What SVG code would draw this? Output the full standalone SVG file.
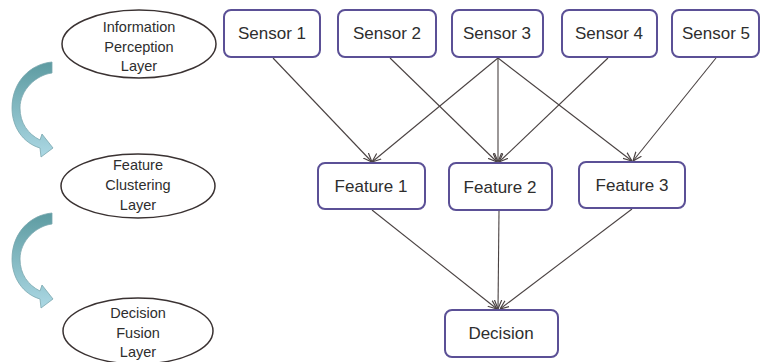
<svg xmlns="http://www.w3.org/2000/svg" width="761" height="362" viewBox="0 0 761 362">
<style>
.node rect{fill:#fff;stroke:#5b5096;stroke-width:2}
.node text{font-family:"Liberation Sans",Arial,sans-serif;font-size:17px;fill:#2e2e2e;text-anchor:middle}
.layer ellipse{fill:#fff;stroke:#3a3232;stroke-width:1.5}
.layer text{font-family:"Liberation Sans",Arial,sans-serif;font-size:14.5px;fill:#2e2e2e;text-anchor:middle}
.conn line{stroke:#4a4242;stroke-width:1.1;marker-end:url(#ah)}
.curve{fill:url(#tg);stroke:#7aa7ae;stroke-width:0.8}
</style>
<defs>
<marker id="ah" viewBox="0 0 10 10" refX="10" refY="5" markerWidth="9" markerHeight="9" markerUnits="userSpaceOnUse" orient="auto">
<path d="M0,1 L10,5 L0,9" fill="none" stroke="#4a4242" stroke-width="1.3"/>
</marker>
<linearGradient id="tg" x1="0" y1="0" x2="0" y2="1">
<stop offset="0" stop-color="#5d9ba1"/>
<stop offset="1" stop-color="#acd8e4"/>
</linearGradient>
</defs>
<rect width="761" height="362" fill="#fff"/>

<g id="layer-info" class="layer">
<ellipse cx="139" cy="44" rx="77" ry="34"/>
<text x="139" y="32">Information</text>
<text x="139" y="52">Perception</text>
<text x="139" y="71">Layer</text>
</g>
<g id="layer-feature" class="layer">
<ellipse cx="138" cy="186" rx="77" ry="32"/>
<text x="138" y="170">Feature</text>
<text x="138" y="190">Clustering</text>
<text x="138" y="210">Layer</text>
</g>
<g id="layer-decision" class="layer">
<ellipse cx="138" cy="331" rx="75" ry="33"/>
<text x="138" y="318">Decision</text>
<text x="138" y="338">Fusion</text>
<text x="138" y="357">Layer</text>
</g>

<g id="flow-arrows">
<path class="curve" d="M52,62 L52,73 C36,75 20,90 20,108 C20,123 28,134 40,140 L42,134 L53,148 L41,157 L40,148 C23,143 12,127 12,108 C12,82 30,64 52,62 Z"/>
<path class="curve" d="M52,213 L52,224 C36,226 20,241 20,259 C20,274 28,285 40,291 L42,285 L53,299 L41,308 L40,299 C23,294 12,278 12,259 C12,233 30,215 52,213 Z"/>
</g>

<g id="connectors" class="conn">
<line x1="273" y1="58" x2="372" y2="162"/>
<line x1="390" y1="58" x2="497" y2="162"/>
<line x1="498" y1="58" x2="372" y2="162"/>
<line x1="498" y1="58" x2="498" y2="162"/>
<line x1="498" y1="58" x2="632" y2="161"/>
<line x1="608" y1="58" x2="499" y2="162"/>
<line x1="716" y1="58" x2="633" y2="161"/>
<line x1="372" y1="210" x2="497" y2="309"/>
<line x1="499" y1="211" x2="498" y2="309"/>
<line x1="632" y1="209" x2="500" y2="309"/>
</g>

<g id="sensor1" class="node"><rect x="224" y="10" width="96" height="47" rx="7"/><text x="272" y="39">Sensor 1</text></g>
<g id="sensor2" class="node"><rect x="338" y="10" width="98" height="47" rx="7"/><text x="387" y="39">Sensor 2</text></g>
<g id="sensor3" class="node"><rect x="452" y="10" width="91" height="47" rx="7"/><text x="497" y="39">Sensor 3</text></g>
<g id="sensor4" class="node"><rect x="562" y="10" width="95" height="47" rx="7"/><text x="609" y="39">Sensor 4</text></g>
<g id="sensor5" class="node"><rect x="672" y="10" width="87" height="47" rx="7"/><text x="716" y="39">Sensor 5</text></g>

<g id="feature1" class="node"><rect x="318" y="163" width="107" height="46" rx="7"/><text x="371" y="192">Feature 1</text></g>
<g id="feature2" class="node"><rect x="449" y="163" width="103" height="47" rx="7"/><text x="500" y="193">Feature 2</text></g>
<g id="feature3" class="node"><rect x="579" y="162" width="106" height="46" rx="7"/><text x="632" y="191">Feature 3</text></g>

<g id="decision" class="node"><rect x="445" y="310" width="113" height="47" rx="7"/><text x="501" y="339">Decision</text></g>
</svg>
